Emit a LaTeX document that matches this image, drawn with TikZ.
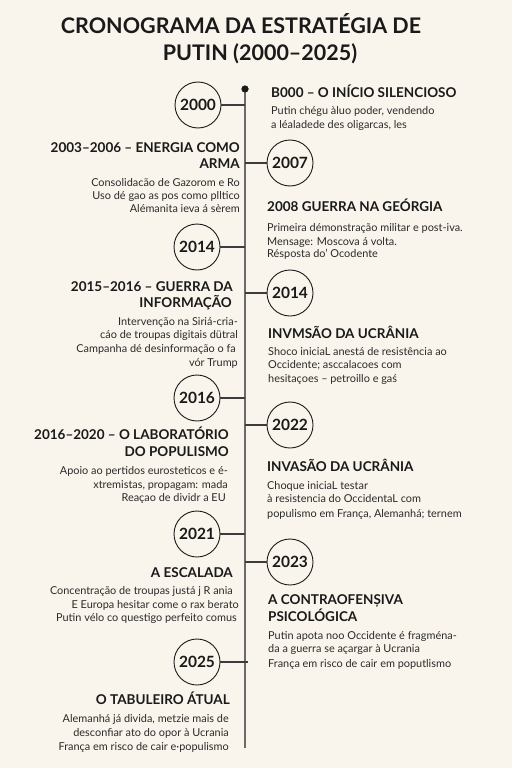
\documentclass[tikz,border=0pt]{standalone}
\usepackage{fontspec}
\setmainfont{Lato}
\definecolor{bg}{HTML}{FAF5EC}
\definecolor{ink}{HTML}{1A1A1A}
\definecolor{bodyc}{HTML}{2A2A2A}
\definecolor{spinec}{HTML}{6A6A6A}
\tikzset{
  hd/.style={inner sep=0, font=\fontsize{13.5}{16}\selectfont\bfseries, text=ink},
  bd/.style={inner sep=0, font=\fontsize{10.9}{13}\selectfont, text=bodyc},
  ttl/.style={inner sep=0, font=\fontsize{21.5}{24}\selectfont\bfseries, text=ink},
  yr/.style={circle, draw=ink, line width=0.9pt, minimum size=46pt, inner sep=0,
    font=\fontsize{15.5}{18}\selectfont\bfseries, text=ink, fill=bg},
  conn/.style={draw=ink!85, line width=1.1pt},
  spine/.style={draw=spinec, line width=2.2pt}
}
\begin{document}
\begin{tikzpicture}[x=1pt,y=-1pt]
\useasboundingbox (0,0) rectangle (512,768);
\fill[bg] (0,0) rectangle (512,768);
% title
\node[ttl, anchor=base] (t1) at (241,33.5) {CRONOGRAMA DA ESTRATÉGIA DE};
\node[ttl, anchor=base] (t2) at (260,60.5) {PUTIN (2000–2025)};
% spine
\node[circle, fill=ink, minimum size=7pt, inner sep=0] (dot) at (245,89) {};
\coordinate (bot) at (245,748);
\draw[spine] (dot.center) -- (bot);
\node[circle, fill=ink, minimum size=7pt, inner sep=0] at (dot) {};
% year circles
\node[yr] (y2000) at (198,105) {2000};
\node[yr] (y2007) at (290,163) {2007};
\node[yr] (y2014a) at (197,247) {2014};
\node[yr] (y2014b) at (290,293) {2014};
\node[yr] (y2016) at (197,398) {2016};
\node[yr] (y2022) at (290,425) {2022};
\node[yr] (y2021) at (197,534) {2021};
\node[yr] (y2023) at (290,562) {2023};
\node[yr] (y2025) at (197,662) {2025};
% connectors
\draw[conn] (y2000.east) -- (y2000.east -| dot);
\draw[conn] (y2007.west) -- (y2007.west -| dot);
\draw[conn] (y2014a.east) -- (y2014a.east -| dot);
\draw[conn] (y2014b.west) -- (y2014b.west -| dot);
\draw[conn] (y2016.east) -- (y2016.east -| dot);
\draw[conn] (y2022.west) -- (y2022.west -| dot);
\draw[conn] (y2021.east) -- (y2021.east -| dot);
\draw[conn] (y2023.west) -- (y2023.west -| dot);
\draw[conn] (y2025.east) -- ([xshift=3pt]y2025.east -| dot);
% 2000 right
\node[hd, anchor=base west] (h1) at (271,97) {B000 – O INÍCIO SILENCIOSO};
\node[bd, anchor=base west] (b1a) at (271,114) {Putin chégu àluo poder, vendendo};
\node[bd, anchor=base west] (b1b) at (271,128) {a léaladede des oligarcas, les};
% 2003-2006 left
\node[hd, anchor=base east] (h2a) at (240,152) {2003–2006 – ENERGIA COMO};
\node[hd, anchor=base east] (h2b) at (240,168) {ARMA};
\node[bd, anchor=base east] (b2a) at (240,186) {Consolidacão de Gazorom e Ro};
\node[bd, anchor=base east] (b2b) at (240,199) {Uso dé gao as pos como plltico};
\node[bd, anchor=base east] (b2c) at (240,212) {Alémanita ieva á sèrem};
% 2008 right
\node[hd, anchor=base west] (h3) at (267,211) {2008 GUERRA NA GEÓRGIA};
\node[bd, anchor=base west] (b3a) at (267,231) {Primeira démonstração militar e post-iva.};
\node[bd, anchor=base west] (b3b) at (267,245) {Mensage: Moscova á volta.};
\node[bd, anchor=base west] (b3c) at (267,257) {Résposta do' Ocodente};
% 2015-2016 left
\node[hd, anchor=base east] (h4a) at (233,291) {2015–2016 – GUERRA DA};
\node[hd, anchor=base east] (h4b) at (232,307) {INFORMAÇÃO};
\node[bd, anchor=base east] (b4a) at (238,325) {Intervenção na Siriá-cria-};
\node[bd, anchor=base east] (b4b) at (238,338) {cáo de troupas digitais dütral};
\node[bd, anchor=base east] (b4c) at (236,352) {Campanha dé desinformação o fa};
\node[bd, anchor=base east] (b4d) at (238,366) {vór Trump};
% invmsao right
\node[hd, anchor=base west] (h5) at (268,338) {INVMSÃO DA UCRÂNIA};
\node[bd, anchor=base west] (b5a) at (268,355) {Shoco iniciaL anestá de resistência ao};
\node[bd, anchor=base west] (b5b) at (268,368) {Occidente; asccalacoes com};
\node[bd, anchor=base west] (b5c) at (268,382) {hesitaçoes – petroillo e gaś};
% 2016-2020 left
\node[hd, anchor=base east] (h6a) at (229,439) {2016–2020 – O LABORATÓRIO};
\node[hd, anchor=base east] (h6b) at (229,456) {DO POPULISMO};
\node[bd, anchor=base east] (b6a) at (228,474) {Apoio ao pertidos eurosteticos e é-};
\node[bd, anchor=base east] (b6b) at (228,488) {xtremistas, propagam: mada};
\node[bd, anchor=base east] (b6c) at (226,501) {Reaçao de dividr a EU};
% invasao right
\node[hd, anchor=base west] (h7) at (267,471) {INVASÃO DA UCRÂNIA};
\node[bd, anchor=base west] (b7a) at (267,489) {Choque iniciaL testar};
\node[bd, anchor=base west] (b7b) at (267,502) {à resistencia do OccidentaL com};
\node[bd, anchor=base west] (b7c) at (267,517) {populismo em França, Alemanhá; ternem};
% escalada left
\node[hd, anchor=base east] (h8) at (233,577) {A ESCALADA};
\node[bd, anchor=base east] (b8a) at (233,594) {Concentração de troupas justá j R ania};
\node[bd, anchor=base east] (b8b) at (239,608) {E Europa hesitar come o rax berato};
\node[bd, anchor=base east] (b8c) at (237,621) {Putin vélo co questigo perfeito comus};
% contraofensiva right
\node[hd, anchor=base west] (h9a) at (268,604) {A CONTRAOFENȘIVA};
\node[hd, anchor=base west] (h9b) at (268,621) {PSICOLÓGICA};
\node[bd, anchor=base west] (b9a) at (268,639) {Putin apota noo Occidente é fragména-};
\node[bd, anchor=base west] (b9b) at (268,652) {da a guerra se açargar à Ucrania};
\node[bd, anchor=base west] (b9c) at (268,667) {França em risco de cair em poputlismo};
% tabuleiro left
\node[hd, anchor=base east] (h10) at (230,704) {O TABULEIRO ÁTUAL};
\node[bd, anchor=base east] (b10a) at (229,722) {Alemanhá já divida, metzie mais de};
\node[bd, anchor=base east] (b10b) at (229,736) {desconfiar ato do opor à Ucrania};
\node[bd, anchor=base east] (b10c) at (229,750) {França em risco de cair e·populismo};
\end{tikzpicture}
\end{document}
